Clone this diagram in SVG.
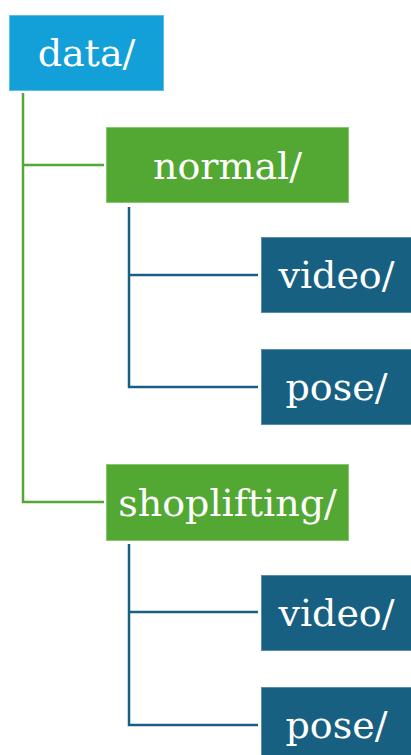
<svg xmlns="http://www.w3.org/2000/svg" width="411" height="755" viewBox="0 0 411 755">
  <style>
    .box { stroke-width: 1; }
    .root { fill: #13a0d8; stroke: #5cc0e6; }
    .dir { fill: #52a832; stroke: #86c86c; }
    .leaf { fill: #186082; stroke: #5a8ea8; }
    .label { font-family: "DejaVu Serif", serif; font-size: 38px; fill: #ffffff; text-anchor: middle; }
    .g-link { fill: none; stroke: #52a832; stroke-width: 2.5; }
    .b-link { fill: none; stroke: #186082; stroke-width: 2.5; }
  </style>
  <rect width="411" height="755" fill="#ffffff"/>

  <g id="connectors">
    <path class="g-link" d="M23 93 V502 H104 M23 165 H104"/>
    <path class="b-link" d="M129 207 V387 H258 M129 275 H258"/>
    <path class="b-link" d="M129 544 V725 H258 M129 612 H258"/>
  </g>

  <g id="data">
    <rect class="box root" x="9.5" y="15.5" width="154" height="75"/>
    <text class="label" x="86.5" y="65.5">data/</text>
  </g>

  <g id="normal">
    <rect class="box dir" x="106.5" y="127.5" width="242" height="75"/>
    <text class="label" x="227.5" y="178.5">normal/</text>
  </g>

  <g id="normal-video">
    <rect class="box leaf" x="261.5" y="237.5" width="151" height="75"/>
    <text class="label" x="336.5" y="288">video/</text>
  </g>

  <g id="normal-pose">
    <rect class="box leaf" x="261.5" y="349.5" width="151" height="75"/>
    <text class="label" x="336.5" y="400">pose/</text>
  </g>

  <g id="shoplifting">
    <rect class="box dir" x="106.5" y="464.5" width="242" height="76"/>
    <text class="label" x="227.5" y="515.5">shoplifting/</text>
  </g>

  <g id="shoplifting-video">
    <rect class="box leaf" x="261.5" y="575.5" width="151" height="75"/>
    <text class="label" x="336.5" y="626">video/</text>
  </g>

  <g id="shoplifting-pose">
    <rect class="box leaf" x="261.5" y="687.5" width="151" height="75"/>
    <text class="label" x="336.5" y="738">pose/</text>
  </g>
</svg>
